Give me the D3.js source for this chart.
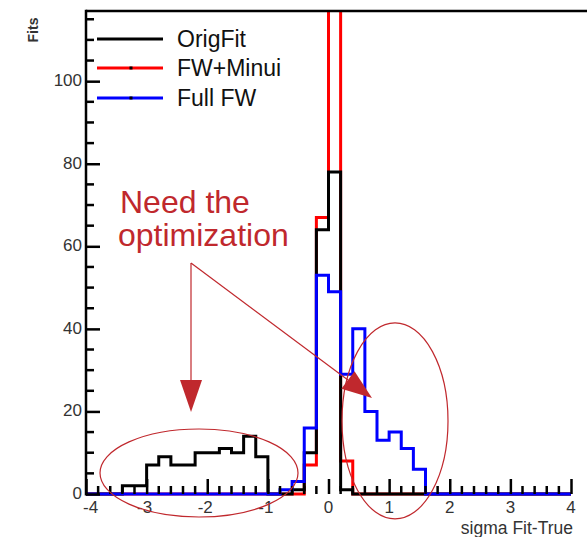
<!DOCTYPE html>
<html>
<head>
<meta charset="utf-8">
<script src="https://cdn.jsdelivr.net/npm/d3@7"></script>
<style>
  html, body { margin: 0; padding: 0; background: #fff; }
  svg { display: block; }
</style>
</head>
<body>
<svg id="chart" width="587" height="537"></svg>
<script>
// Histogram binning: 40 bins of width 0.2 on [-4, 4]
const binEdgesLow = d3.range(40).map(i => -4 + 0.2 * i);
const binWidth = 0.2;

// Counts per bin for each fitting method
const origFit = [0,0,0,2,2,7,9,7,7,10, 10,11,10,14,9,0,0,1,10,64, 78,1,0,0,0,0,0,0,0,0, 0,0,0,0,0,0,0,0,0,0];
const fwMinui = [0,0,0,0,0,0,0,0,0,0, 0,0,0,0,0,0,0,0,7,67, 175,8,0,0,0,0,0,0,0,0, 0,0,0,0,0,0,0,0,0,0];
const fullFW  = [0,0,0,0,0,0,0,0,0,0, 0,0,0,0,0,0,1,3,16,53, 49,29,40,20,13,15,11,6,0,0, 0,0,0,0,0,0,0,0,0,0];

const seriesNames = ["OrigFit", "FW+Minui", "Full FW"];
const seriesColors = ["#000000", "#ff0000", "#0000ff"];

const xTickValues = [-4, -3, -2, -1, 0, 1, 2, 3, 4];
const yTickValues = [0, 20, 40, 60, 80, 100];

const svg = d3.select("#chart");

const x = d3.scaleLinear().domain([-4, 4]).range([86, 571]);
const y = d3.scaleLinear().domain([0, 117]).range([494, 11]);

// Clip region for histogram outlines (content above the frame is cut)
svg.append("defs").append("clipPath").attr("id", "plotClip")
  .append("rect").attr("x", 80).attr("y", y(117)).attr("width", 500).attr("height", y(0) - y(117) + 6);

// Step outline for one histogram
function histPath(counts) {
  const pts = [[x(-4), y(0)]];
  counts.forEach((c, i) => {
    pts.push([x(binEdgesLow[i]), y(c)]);
    pts.push([x(binEdgesLow[i] + binWidth), y(c)]);
  });
  pts.push([x(4), y(0)]);
  return d3.line()(pts);
}

const histLayer = svg.append("g").attr("clip-path", "url(#plotClip)");
// draw order: FW+Minui, OrigFit, Full FW
[[fwMinui, 1], [origFit, 0], [fullFW, 2]].forEach(([counts, k]) => {
  histLayer.append("path")
    .attr("d", histPath(counts))
    .attr("fill", "none")
    .attr("stroke", seriesColors[k])
    .attr("stroke-width", 3)
    .attr("stroke-linejoin", "miter");
});

// Frame: left axis line and top border
svg.append("line").attr("x1", x(-4)).attr("x2", 587).attr("y1", y(117)).attr("y2", y(117))
  .attr("stroke", "#000").attr("stroke-width", 2.5);

// Y axis (ticks point into the plot)
const yAxis = d3.axisRight(y).tickValues(yTickValues).tickSize(14).tickFormat("");
const gy = svg.append("g").attr("transform", `translate(${x(-4)},0)`).call(yAxis);
gy.select(".domain").remove();
gy.selectAll(".tick line").attr("stroke", "#000").attr("stroke-width", 2.5);
const yMinor = d3.range(0, 117, 5).filter(v => v % 20 !== 0);
svg.append("g").selectAll("line").data(yMinor).join("line")
  .attr("x1", x(-4)).attr("x2", x(-4) + 8).attr("y1", d => y(d)).attr("y2", d => y(d))
  .attr("stroke", "#000").attr("stroke-width", 2.5);
svg.append("line").attr("x1", x(-4)).attr("x2", x(-4)).attr("y1", y(117) - 1.2).attr("y2", y(0) + 1.5)
  .attr("stroke", "#000").attr("stroke-width", 2.5);
svg.append("g").selectAll("text").data(yTickValues).join("text")
  .attr("x", 82).attr("y", d => y(d) + 5)
  .attr("text-anchor", "end")
  .attr("font-family", "Liberation Sans, Arial, sans-serif")
  .attr("font-size", 17).attr("fill", "#333")
  .text(d => d);

// X axis (ticks point up into the plot)
const xAxis = d3.axisTop(x).tickValues(xTickValues).tickSize(15).tickFormat("");
const gx = svg.append("g").attr("transform", `translate(0,${y(0)})`).call(xAxis);
gx.select(".domain").remove();
gx.selectAll(".tick line").attr("stroke", "#000").attr("stroke-width", 2.5);
const xMinor = d3.range(-3.8, 4, 0.2).filter(v => Math.abs(v - Math.round(v)) > 0.01);
svg.append("g").selectAll("line").data(xMinor).join("line")
  .attr("x1", d => x(d)).attr("x2", d => x(d)).attr("y1", y(0)).attr("y2", y(0) - 8)
  .attr("stroke", "#000").attr("stroke-width", 2.5);
svg.append("g").selectAll("text").data(xTickValues).join("text")
  .attr("x", d => d === -4 ? 83 : x(d) - (d < 0 ? 2 : 0)).attr("y", 513)
  .attr("text-anchor", d => d === -4 ? "start" : "middle")
  .attr("font-family", "Liberation Sans, Arial, sans-serif")
  .attr("font-size", 17).attr("fill", "#333")
  .text(d => d < 0 ? "-" + Math.abs(d) : d);

// Axis titles
svg.append("text").attr("x", 573).attr("y", 534).attr("text-anchor", "end")
  .attr("font-family", "Liberation Sans, Arial, sans-serif")
  .attr("font-size", 17.5).attr("fill", "#333").text("sigma Fit-True");
svg.append("text").attr("transform", "translate(38,30) rotate(-90)").attr("text-anchor", "middle")
  .attr("font-family", "Liberation Sans, Arial, sans-serif")
  .attr("font-size", 14).attr("font-weight", "bold").attr("fill", "#333").text("Fits");

// Legend
const legendY = [39, 68, 98];
const leg = svg.append("g");
seriesNames.forEach((name, k) => {
  leg.append("line").attr("x1", 97).attr("x2", 163).attr("y1", legendY[k]).attr("y2", legendY[k])
    .attr("stroke", seriesColors[k]).attr("stroke-width", 3);
  if (k > 0) {
    leg.append("rect").attr("x", 129.5).attr("y", legendY[k] - 1.5).attr("width", 3).attr("height", 3).attr("fill", "#000");
  }
  leg.append("text").attr("x", 177).attr("y", legendY[k] + 8)
    .attr("font-family", "Liberation Sans, Arial, sans-serif")
    .attr("font-size", 23).attr("fill", "#111").text(name);
});

// Annotation
const annColor = "#c0282d";
const ann = svg.append("g");
ann.append("text").attr("x", 120).attr("y", 213)
  .attr("font-family", "Liberation Sans, Arial, sans-serif").attr("font-size", 32).attr("fill", annColor)
  .text("Need the");
ann.append("text").attr("x", 118).attr("y", 246)
  .attr("font-family", "Liberation Sans, Arial, sans-serif").attr("font-size", 32).attr("fill", annColor)
  .text("optimization");

const origin = [x(-2.268), y(55.96)];
function arrow(tip, headLen, headHalf) {
  const dx = tip[0] - origin[0], dy = tip[1] - origin[1];
  const L = Math.hypot(dx, dy), ux = dx / L, uy = dy / L;
  const bx = tip[0] - ux * headLen, by = tip[1] - uy * headLen;
  ann.append("line").attr("x1", origin[0]).attr("y1", origin[1]).attr("x2", bx).attr("y2", by)
    .attr("stroke", annColor).attr("stroke-width", 1.2);
  ann.append("path")
    .attr("d", `M${tip[0]},${tip[1]}L${bx - uy * headHalf},${by + ux * headHalf}L${bx + uy * headHalf},${by - ux * headHalf}Z`)
    .attr("fill", annColor);
}
arrow([x(-2.268), y(19.86)], 32, 11);
arrow([x(0.7175), y(23.26)], 30, 11);

ann.append("ellipse").attr("cx", x(-2.136)).attr("cy", y(5.09)).attr("rx", 99).attr("ry", 44)
  .attr("fill", "none").attr("stroke", annColor).attr("stroke-width", 1.2);
ann.append("ellipse").attr("cx", x(1.097)).attr("cy", y(17.7)).attr("rx", 53).attr("ry", 98)
  .attr("fill", "none").attr("stroke", annColor).attr("stroke-width", 1.2);
</script>
</body>
</html>
